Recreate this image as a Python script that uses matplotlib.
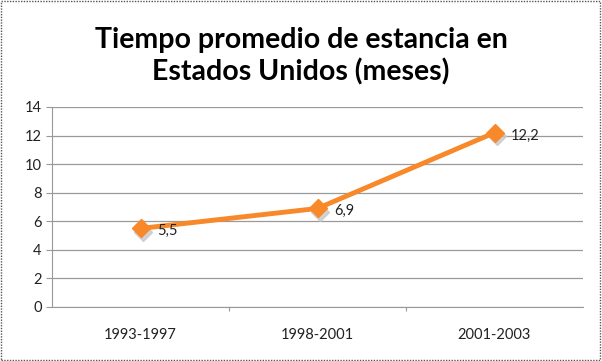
import matplotlib.pyplot as plt
from matplotlib.patches import Rectangle

plt.rcParams['font.family'] = ['Lato', 'DejaVu Sans']

periodos = ['1993-1997', '1998-2001', '2001-2003']
meses = [5.5, 6.9, 12.2]
etiquetas = ['5,5', '6,9', '12,2']
titulo = 'Tiempo promedio de estancia en\nEstados Unidos (meses)'

naranja = '#F7892A'

fig = plt.figure(figsize=(6.02, 3.61), dpi=100)
ax = fig.add_axes([52 / 602, 1 - 307 / 361, 531 / 602, 200 / 361])

x = list(range(len(periodos)))

# sombra de la serie
ax.plot([i + 0.012 for i in x], [v - 0.25 for v in meses], color='#c8c8c8',
        lw=0, marker='D', ms=9, alpha=0.8, zorder=2)
ax.plot(x, meses, color=naranja, lw=3.5, marker='D', ms=9,
        markerfacecolor=naranja, markeredgecolor=naranja, zorder=3)

for i, v in enumerate(meses):
    ax.annotate(etiquetas[i], (i, v), xytext=(12, -2), textcoords='offset points',
                fontsize=10.5, color='#222222', va='center', ha='left')

ax.set_xlim(-0.5, 2.5)
ax.set_ylim(0, 14)
ax.set_yticks(range(0, 15, 2))
ax.set_xticks([0.5, 1.5])
ax.set_xticklabels([])
ax.tick_params(axis='x', length=3, color='#999999')
ax.tick_params(axis='y', length=4, color='#999999', labelsize=10.5, labelcolor='#222222')
ax.grid(axis='y', color='#9a9a9a', lw=0.9)
ax.set_axisbelow(True)

for i, p in enumerate(periodos):
    ax.text(i, -1.5, p, ha='center', va='top', fontsize=10.5, color='#222222')

for s in ['top', 'right']:
    ax.spines[s].set_visible(False)
ax.spines['left'].set_color('#999999')
ax.spines['bottom'].set_color('#999999')

fig.text(0.5, 0.845, titulo, ha='center', va='center', fontsize=20.5,
         fontweight='bold', linespacing=1.25)

fig.patches.append(Rectangle((0.002, 0.003), 0.995, 0.994, transform=fig.transFigure,
                             fill=False, edgecolor='#555555', lw=1, ls=(0, (1, 1))))

fig.savefig('out.png', dpi=100)
